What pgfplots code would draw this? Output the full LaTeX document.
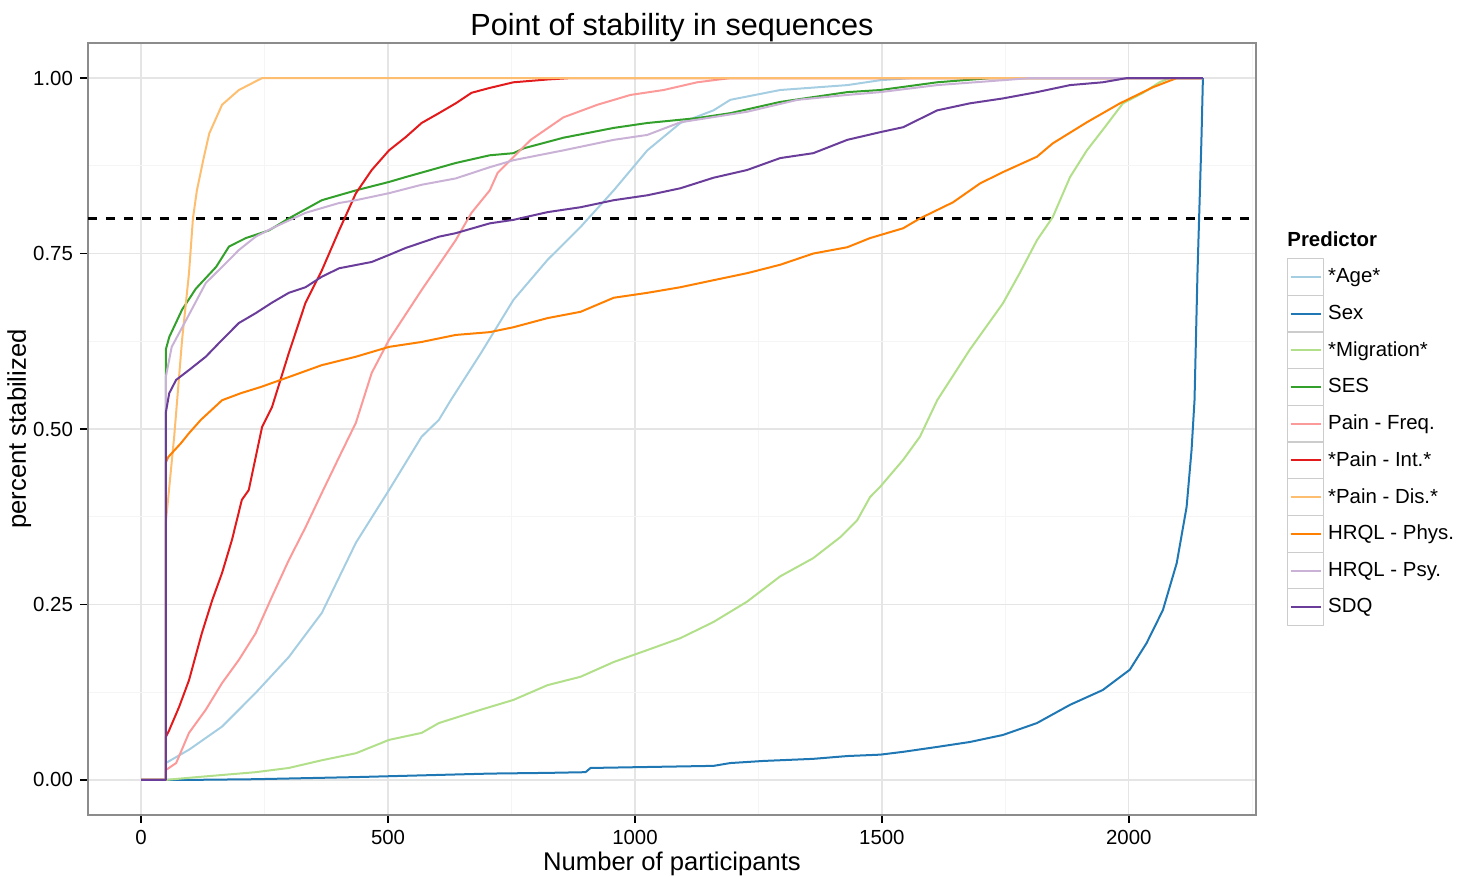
\documentclass[border=0pt]{standalone}
\usepackage{fontspec}
\setmainfont{Liberation Sans}
\usepackage{pgfplots}
\pgfplotsset{compat=1.18}

\definecolor{cAge}{HTML}{A6CEE3}
\definecolor{cSex}{HTML}{1F78B4}
\definecolor{cMig}{HTML}{B2DF8A}
\definecolor{cSES}{HTML}{33A02C}
\definecolor{cPFreq}{HTML}{FB9A99}
\definecolor{cPInt}{HTML}{E31A1C}
\definecolor{cPDis}{HTML}{FDBF6F}
\definecolor{cPhys}{HTML}{FF7F00}
\definecolor{cPsy}{HTML}{CAB2D6}
\definecolor{cSDQ}{HTML}{6A3D9A}

\begin{document}
\begin{tikzpicture}
\path[use as bounding box] (-44pt,-31pt) rectangle (690pt,407.5pt);
\begin{axis}[
  at={(0,0)}, anchor=south west,
  scale only axis, width=584pt, height=386pt,
  xmin=-107.5, xmax=2257.5, ymin=-0.05, ymax=1.05,
  xtick={0,500,1000,1500,2000},
  xticklabels={0,500,1000,1500,2000},
  minor xtick={250,750,1250,1750,2250},
  ytick={0,0.25,0.5,0.75,1},
  yticklabels={0.00,0.25,0.50,0.75,1.00},
  minor ytick={0.125,0.375,0.625,0.875},
  grid=both,
  major grid style={draw=black!10, line width=0.6pt},
  minor grid style={draw=black!4, line width=0.5pt},
  axis line style={draw=black!45, line width=0.9pt},
  tick style={black, line width=0.9pt},
  major tick length=4pt, minor tick length=0pt,
  tick align=outside, tick pos=left,
  scaled ticks=false,
  /pgf/number format/assume math mode=true,
  ticklabel style={font=\fontsize{10.2}{12}\selectfont},
  xlabel={Number of participants},
  xlabel style={font=\fontsize{12.8}{15}\selectfont, at={(axis description cs:0.5,-0.0725)}, anchor=base},
  ylabel={percent stabilized},
  ylabel style={font=\fontsize{12.8}{15}\selectfont, at={(axis description cs:-0.0531,0.5)}, anchor=base, rotate=0},
  every axis plot/.append style={line width=1pt, line join=round},
  legend style={at={(1.0265,0.7215)}, anchor=north west, draw=none, fill=none,
    inner sep=0pt, outer sep=0pt, row sep=-0.6pt, column sep=2pt,
    font=\fontsize{10.2}{12}\selectfont, nodes={inner sep=0pt}},
  legend cell align=left,
  legend image code/.code={
    \draw[draw=black!20, line width=0.6pt, fill=white, solid] (0pt,-9.175pt) rectangle (18pt,9.175pt);
    \draw[#1] (1.5pt,0pt) -- (16.5pt,0pt);
  },
]
\addplot[black, dash pattern=on 4.5pt off 4.5pt, line width=1.4pt, forget plot] coordinates {(-107.5,0.8) (2257.5,0.8)};

\addplot[cAge] coordinates {(0,0) (50,0) (50,0.024) (97,0.043) (164,0.076) (232,0.124) (299,0.175) (366,0.238) (435,0.338) (502,0.413) (568,0.489) (603,0.513) (627,0.541) (688,0.608) (754,0.684) (823,0.741) (890,0.788) (957,0.84) (1025,0.897) (1092,0.936) (1159,0.954) (1193,0.969) (1294,0.983) (1430,0.99) (1497,0.997) (1560,1) (2150,1)};
\addlegendentry{*Age*}

\addplot[cSex] coordinates {(0,0) (50,0) (97,0) (232,0.001) (435,0.004) (706,0.009) (823,0.01) (900,0.011) (910,0.017) (1159,0.02) (1193,0.024) (1260,0.027) (1361,0.03) (1430,0.034) (1497,0.036) (1543,0.04) (1612,0.047) (1678,0.054) (1745,0.064) (1814,0.081) (1881,0.107) (1947,0.128) (2002,0.157) (2036,0.195) (2069,0.242) (2097,0.309) (2117,0.389) (2127,0.47) (2133,0.541) (2139,0.722) (2147,0.912) (2150,1)};
\addlegendentry{Sex}

\addplot[cMig] coordinates {(0,0) (50,0) (97,0.003) (164,0.007) (232,0.011) (299,0.017) (366,0.028) (435,0.038) (502,0.057) (568,0.067) (603,0.081) (688,0.1) (754,0.114) (823,0.135) (890,0.147) (957,0.168) (1025,0.185) (1092,0.202) (1159,0.225) (1227,0.254) (1294,0.29) (1361,0.316) (1416,0.346) (1450,0.37) (1476,0.403) (1497,0.418) (1543,0.456) (1577,0.489) (1612,0.541) (1678,0.613) (1745,0.679) (1779,0.722) (1814,0.769) (1846,0.802) (1881,0.859) (1915,0.897) (1947,0.926) (1988,0.964) (2029,0.979) (2062,0.994) (2083,1) (2150,1)};
\addlegendentry{*Migration*}

\addplot[cSES] coordinates {(0,0) (50,0) (50,0.613) (57,0.631) (83,0.67) (111,0.70) (152,0.731) (178,0.76) (212,0.772) (259,0.783) (299,0.80) (366,0.826) (435,0.84) (502,0.852) (536,0.859) (637,0.879) (706,0.89) (754,0.893) (775,0.90) (855,0.915) (957,0.929) (1025,0.936) (1126,0.943) (1193,0.95) (1294,0.966) (1430,0.98) (1497,0.983) (1612,0.994) (1720,1) (2150,1)};
\addlegendentry{SES}

\addplot[cPFreq] coordinates {(0,0) (50,0) (50,0.014) (71,0.024) (97,0.067) (131,0.1) (164,0.138) (198,0.171) (232,0.209) (265,0.261) (299,0.313) (333,0.36) (366,0.409) (401,0.46) (435,0.509) (467,0.58) (502,0.627) (568,0.698) (637,0.769) (669,0.808) (706,0.84) (722,0.865) (789,0.912) (855,0.944) (924,0.962) (991,0.976) (1058,0.983) (1126,0.994) (1193,1) (2150,1)};
\addlegendentry{Pain - Freq.}

\addplot[cPInt] coordinates {(0,0) (50,0) (50,0.061) (57,0.071) (77,0.104) (97,0.142) (123,0.209) (144,0.256) (164,0.295) (184,0.342) (204,0.399) (218,0.413) (245,0.503) (265,0.531) (299,0.608) (333,0.68) (366,0.726) (401,0.783) (435,0.836) (467,0.869) (502,0.897) (536,0.916) (568,0.936) (603,0.95) (637,0.964) (669,0.979) (706,0.986) (754,0.994) (823,0.998) (870,1) (2150,1)};
\addlegendentry{*Pain - Int.*}

\addplot[cPDis] coordinates {(0,0) (50,0) (50,0.366) (67,0.489) (83,0.627) (97,0.722) (105,0.80) (113,0.84) (127,0.887) (138,0.921) (164,0.962) (198,0.983) (245,1) (2150,1)};
\addlegendentry{*Pain - Dis.*}

\addplot[cPhys] coordinates {(0,0) (50,0) (50,0.452) (55,0.46) (81,0.48) (97,0.494) (121,0.513) (164,0.541) (202,0.551) (243,0.56) (299,0.574) (366,0.591) (435,0.603) (502,0.617) (568,0.624) (637,0.634) (706,0.638) (754,0.645) (823,0.658) (890,0.667) (957,0.687) (1025,0.694) (1092,0.702) (1159,0.712) (1227,0.722) (1294,0.734) (1361,0.75) (1430,0.759) (1476,0.772) (1543,0.786) (1577,0.80) (1644,0.823) (1699,0.85) (1745,0.866) (1814,0.888) (1846,0.907) (1915,0.937) (1982,0.964) (2049,0.987) (2097,1) (2150,1)};
\addlegendentry{HRQL - Phys.}

\addplot[cPsy] coordinates {(0,0) (50,0) (50,0.574) (62,0.617) (91,0.655) (131,0.708) (164,0.731) (198,0.755) (232,0.774) (265,0.786) (333,0.808) (401,0.822) (435,0.826) (502,0.836) (568,0.848) (637,0.857) (706,0.873) (754,0.883) (855,0.897) (957,0.912) (1025,0.919) (1092,0.937) (1227,0.952) (1329,0.969) (1430,0.976) (1497,0.98) (1612,0.99) (1745,0.997) (1800,1) (2150,1)};
\addlegendentry{HRQL - Psy.}

\addplot[cSDQ] coordinates {(0,0) (50,0) (50,0.523) (57,0.551) (71,0.57) (97,0.584) (131,0.603) (164,0.627) (198,0.651) (232,0.665) (265,0.68) (299,0.694) (333,0.702) (366,0.717) (401,0.729) (467,0.738) (502,0.748) (536,0.758) (603,0.774) (637,0.779) (706,0.793) (754,0.798) (823,0.809) (890,0.816) (957,0.826) (1025,0.833) (1092,0.843) (1159,0.858) (1227,0.869) (1294,0.886) (1361,0.893) (1430,0.912) (1497,0.923) (1543,0.93) (1612,0.954) (1678,0.964) (1745,0.971) (1814,0.98) (1881,0.99) (1947,0.994) (1996,1) (2150,1)};
\addlegendentry{SDQ}
\end{axis}
\node[anchor=base, inner sep=0pt, font=\fontsize{15.3}{18}\selectfont] at (292pt,389.5pt) {Point of stability in sequences};
\node[anchor=base west, inner sep=0pt, font=\bfseries\fontsize{10.2}{12}\selectfont] at (599.5pt,284pt) {Predictor};
\end{tikzpicture}
\end{document}
